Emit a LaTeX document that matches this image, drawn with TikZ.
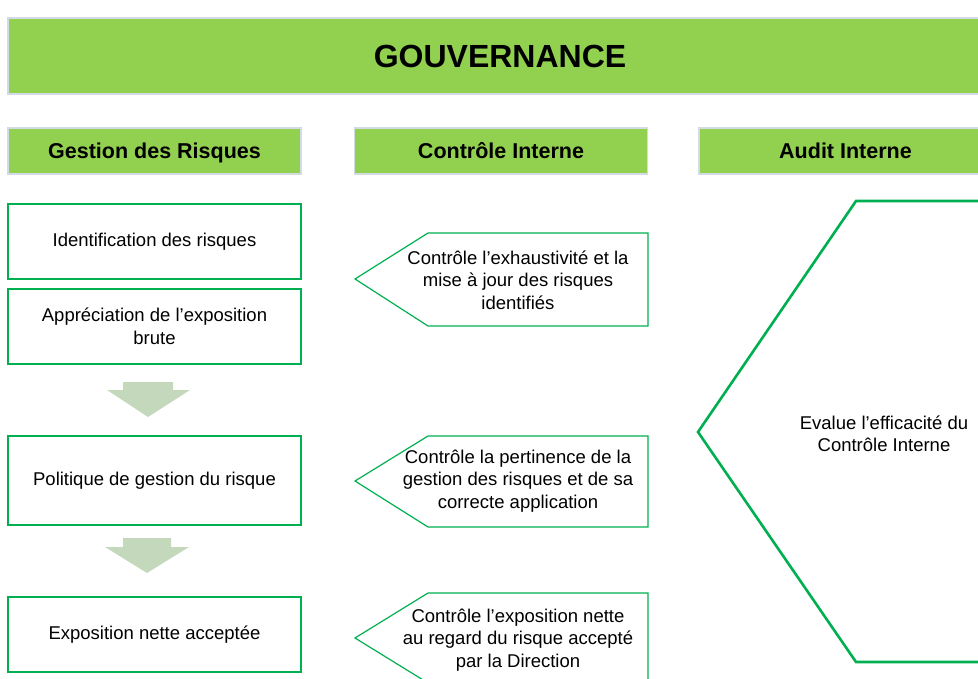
\documentclass[tikz,border=0pt]{standalone}
\usepackage{fontspec}
\setmainfont{Liberation Sans}
\definecolor{gvgreen}{HTML}{92D050}
\definecolor{gvedge}{HTML}{D3DAE3}
\definecolor{boxgreen}{HTML}{00B050}
\definecolor{arrowgreen}{HTML}{C4D8BC}

\begin{document}
\begin{tikzpicture}[x=1pt, y=-1pt]
	\tikzstyle{head}=[draw=gvedge, line width=1.5pt, fill=gvgreen, inner sep=0pt, minimum width=293pt, minimum height=46pt, text height=15.4pt, text depth=0pt, font=\fontsize{21.5}{26}\selectfont\bfseries]
	\tikzstyle{gr}=[draw=boxgreen, line width=1.2pt, fill=white, inner sep=0pt, minimum width=293pt, align=center, font=\fontsize{18.5}{22.5}\selectfont]
	\tikzstyle{ctrl}=[draw=boxgreen, line width=1.2pt]
	\tikzstyle{txt}=[align=center, inner sep=0pt, font=\fontsize{18.5}{22.5}\selectfont]
	\tikzstyle{down}=[fill=arrowgreen]
	\useasboundingbox (0,0) rectangle (978,679);
		\node[head, minimum width=984pt, minimum height=76pt, text height=23pt, font=\fontsize{32}{38}\selectfont\bfseries] (gouv) at (500,56) {GOUVERNANCE};
		
		\node[head] (gr) at (154.5,151) {Gestion des Risques};
		\node[head] (ci) at (501,151) {Contrôle Interne};
		\node[head] (ai) at (845.5,151) {Audit Interne};
		
		%========================================================================
		% Gestion des risques
		\node[gr, minimum height=75pt] (ident) at (154.5,241.5) {Identification des risques};
		\node[gr, minimum height=75pt] (appr) at (154.5,326.5) {Appréciation de l’exposition\\brute};
		\node[gr, minimum height=89pt] (polit) at (154.5,480.5) {Politique de gestion du risque};
		\node[gr, minimum height=75pt] (expo) at (154.5,634.5) {Exposition nette acceptée};
		
		\fill[down] (123,382) -- (173,382) -- (173,390) -- (190,390) -- (148,417) -- (107,390) -- (123,390) -- cycle;
		\fill[down] (123,538) -- (171,538) -- (171,547) -- (189,547) -- (147,573) -- (105,547) -- (123,547) -- cycle;
		
		%========================================================================
		% Controle interne
		\draw[ctrl] (355,279) -- (428,233) -- (648,233) -- (648,326) -- (428,326) -- cycle;
		\draw[ctrl] (355,481) -- (428,436) -- (648,436) -- (648,527) -- (428,527) -- cycle;
		\draw[ctrl] (355,638) -- (428,593) -- (648,593) -- (648,683) -- (428,683) -- cycle;
		
		\node[txt] (c1) at (518,280) {Contrôle l’exhaustivité et la\\mise à jour des risques\\identifiés};
		\node[txt] (c2) at (518,481) {Contrôle la pertinence de la\\gestion des risques et de sa\\correcte application};
		\node[txt] (c3) at (518,640) {Contrôle l’exposition nette\\au regard du risque accepté\\par la Direction};
		
		%========================================================================
		% Audit interne
		\draw[ctrl, line width=2.6pt] (1100,201) -- (856,201) -- (698,432) -- (856,662) -- (1100,662);
		\node[txt] (a1) at (884,434) {Evalue l’efficacité du\\Contrôle Interne};
	\end{tikzpicture}
\end{document}
